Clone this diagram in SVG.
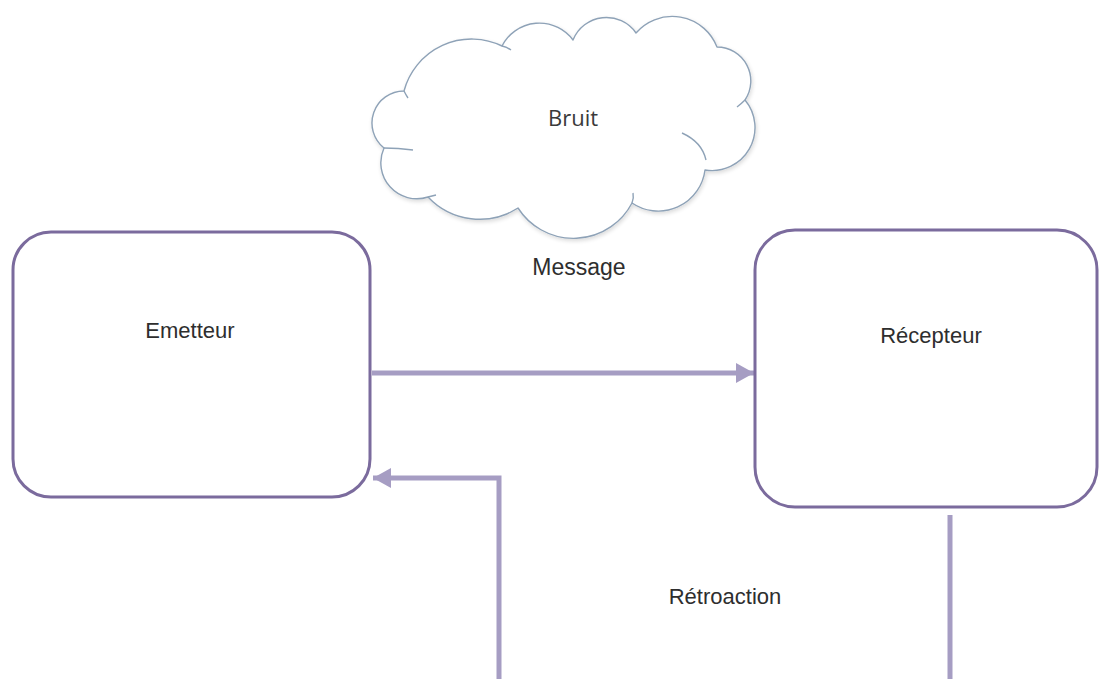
<svg xmlns="http://www.w3.org/2000/svg" width="1101" height="679" viewBox="0 0 1101 679">
<style>
.box{fill:#ffffff;stroke:#7b6b9d;stroke-width:3}
.lbl{font-family:"Liberation Sans",Arial,sans-serif;font-size:22px;fill:#2e2e2e;text-anchor:middle}
.conn{fill:none;stroke:#a69dc3;stroke-width:5}
.cloud{fill:#ffffff;stroke:#8ea2b7;stroke-width:1.4;stroke-linejoin:round}
.curl{fill:none;stroke:#8ea2b7;stroke-width:1.4}
</style>
<defs>
<marker id="ah" markerUnits="userSpaceOnUse" markerWidth="20" markerHeight="22" refX="18" refY="11" orient="auto">
<path d="M0,1 L18,11 L0,21 Z" fill="#a69dc3"/>
</marker>
<filter id="sh" x="-10%" y="-10%" width="120%" height="130%">
<feGaussianBlur in="SourceAlpha" stdDeviation="2"/>
<feOffset dx="1" dy="2" result="b"/>
<feComponentTransfer><feFuncA type="linear" slope="0.15"/></feComponentTransfer>
<feMerge><feMergeNode/><feMergeNode in="SourceGraphic"/></feMerge>
</filter>
</defs>
<rect width="1101" height="679" fill="#ffffff"/>
<g id="bruit">
<path class="cloud" filter="url(#sh)" d="M404,91 A70,70 0 0 1 502,46 A42,42 0 0 1 573,40 A36,36 0 0 1 636,33 A48,48 0 0 1 717,47 A34,34 0 0 1 745,100 A43,43 0 0 1 705,170 A47,47 0 0 1 632,203 A66,66 0 0 1 518,208 A71,71 0 0 1 428,197 A36,36 0 0 1 384,148 A32,32 0 0 1 404,91 Z"/>
<path class="curl" d="M502,46 Q507,47 511,50"/>
<path class="curl" d="M745,100 Q741,104 737,107"/>
<path class="curl" d="M682,133 Q702,142 706,160"/>
<path class="curl" d="M633,193 Q634,198 632,203"/>
<path class="curl" d="M428,197 Q432,196 436,195"/>
<path class="curl" d="M384,148 Q398,148 413,150"/>
<path class="curl" d="M404,91 Q406,95 408,98"/>
<text x="573" y="126" style="font-family:'Open Sans','Noto Sans',sans-serif;font-size:22px;fill:#3a3a3a;text-anchor:middle">Bruit</text>
</g>
<g id="connectors">
<line class="conn" x1="372" y1="373" x2="754" y2="373" marker-end="url(#ah)"/>
<polyline class="conn" points="499,679 499,478 373,478" marker-end="url(#ah)"/>
<line class="conn" x1="950" y1="515" x2="950" y2="679"/>
<text class="lbl" x="579" y="275" style="font-size:23px">Message</text>
<text class="lbl" x="725" y="604">Rétroaction</text>
</g>
<g id="emetteur">
<rect class="box" x="13" y="232" width="357" height="265" rx="38" ry="38"/>
<text class="lbl" x="190" y="338">Emetteur</text>
</g>
<g id="recepteur">
<rect class="box" x="755" y="230" width="342" height="277" rx="40" ry="40"/>
<text class="lbl" x="931" y="343">Récepteur</text>
</g>
</svg>
